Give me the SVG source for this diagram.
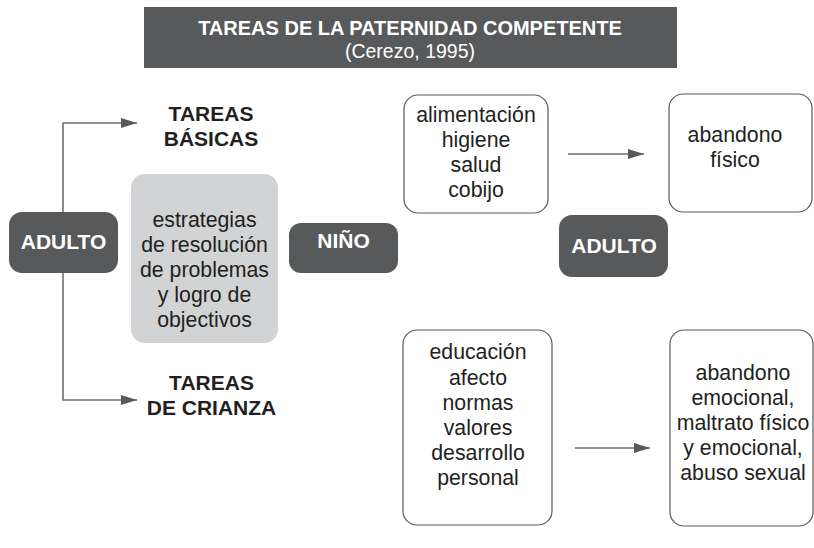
<svg xmlns="http://www.w3.org/2000/svg" width="814" height="548" viewBox="0 0 814 548">
<defs>
<style>
.dark{fill:#58595b}
.gray{fill:#d1d3d4}
.white{fill:#ffffff;stroke:#58595b;stroke-width:1.2}
.wt{font-family:"Liberation Sans",Arial,sans-serif;font-weight:bold;font-size:21px;fill:#ffffff;text-anchor:middle}
.bt{font-family:"Liberation Sans",Arial,sans-serif;font-weight:bold;font-size:21px;fill:#231f20;text-anchor:middle}
.t{font-family:"Liberation Sans",Arial,sans-serif;font-size:21.3px;fill:#231f20;text-anchor:middle}
.conn{fill:none;stroke:#6d6e71;stroke-width:1.6}
</style>
<marker id="ah" markerWidth="16" markerHeight="10" refX="16" refY="5" orient="auto" markerUnits="userSpaceOnUse">
<path d="M0,0 L16,5 L0,10 Z" fill="#58595b"/>
</marker>
</defs>
<rect width="814" height="548" fill="#ffffff"/>
<g id="title">
<rect x="144" y="7" width="533" height="61" class="dark"/>
<text x="410" y="35" style="font-family:'Liberation Sans',Arial,sans-serif;font-weight:bold;font-size:20px;fill:#ffffff;text-anchor:middle">TAREAS DE LA PATERNIDAD COMPETENTE</text>
<text x="410" y="58" style="font-family:'Liberation Sans',Arial,sans-serif;font-size:19.5px;fill:#ffffff;text-anchor:middle">(Cerezo, 1995)</text>
</g>
<g id="connectors">
<path class="conn" d="M63,212 V123 H137" marker-end="url(#ah)"/>
<path class="conn" d="M63,273 V400 H137" marker-end="url(#ah)"/>
<path class="conn" d="M568,154 H644" marker-end="url(#ah)"/>
<path class="conn" d="M575,448 H650" marker-end="url(#ah)"/>
</g>
<g id="adulto-left">
<rect x="9" y="212" width="109" height="61" rx="13" class="dark"/>
<text x="63.5" y="249" class="wt">ADULTO</text>
</g>
<g id="tareas-basicas">
<text x="211" y="121" class="bt">TAREAS</text>
<text x="211" y="146" class="bt">BÁSICAS</text>
</g>
<g id="estrategias">
<rect x="131" y="174" width="147" height="169" rx="14" class="gray"/>
<text x="204.5" y="227" class="t">estrategias</text>
<text x="204.5" y="252" class="t">de resolución</text>
<text x="204.5" y="277" class="t">de problemas</text>
<text x="204.5" y="302" class="t">y logro de</text>
<text x="204.5" y="327" class="t">objectivos</text>
</g>
<g id="tareas-crianza">
<text x="211.5" y="390" class="bt">TAREAS</text>
<text x="211.5" y="415" class="bt">DE CRIANZA</text>
</g>
<g id="nino">
<rect x="289" y="223" width="109" height="50" rx="12" class="dark"/>
<text x="343.5" y="248" class="wt">NIÑO</text>
</g>
<g id="adulto-right">
<rect x="559" y="215" width="109" height="62" rx="13" class="dark"/>
<text x="614" y="253" class="wt">ADULTO</text>
</g>
<g id="basicas-list">
<rect x="404" y="95" width="144" height="118" rx="14" class="white"/>
<text x="476" y="122" class="t">alimentación</text>
<text x="476" y="147" class="t">higiene</text>
<text x="476" y="172" class="t">salud</text>
<text x="476" y="197" class="t">cobijo</text>
</g>
<g id="abandono-fisico">
<rect x="669" y="94" width="143" height="118" rx="14" class="white"/>
<text x="735" y="142" class="t">abandono</text>
<text x="735" y="167" class="t">físico</text>
</g>
<g id="crianza-list">
<rect x="403" y="330" width="149" height="195" rx="14" class="white"/>
<text x="478" y="359" class="t">educación</text>
<text x="478" y="385" class="t">afecto</text>
<text x="478" y="410" class="t">normas</text>
<text x="478" y="435" class="t">valores</text>
<text x="478" y="460" class="t">desarrollo</text>
<text x="478" y="485" class="t">personal</text>
</g>
<g id="abandono-emocional">
<rect x="670" y="330" width="143" height="196" rx="14" class="white"/>
<text x="743" y="380" class="t">abandono</text>
<text x="743" y="405" class="t">emocional,</text>
<text x="743" y="430" class="t">maltrato físico</text>
<text x="743" y="455" class="t">y emocional,</text>
<text x="743" y="480" class="t">abuso sexual</text>
</g>
</svg>
